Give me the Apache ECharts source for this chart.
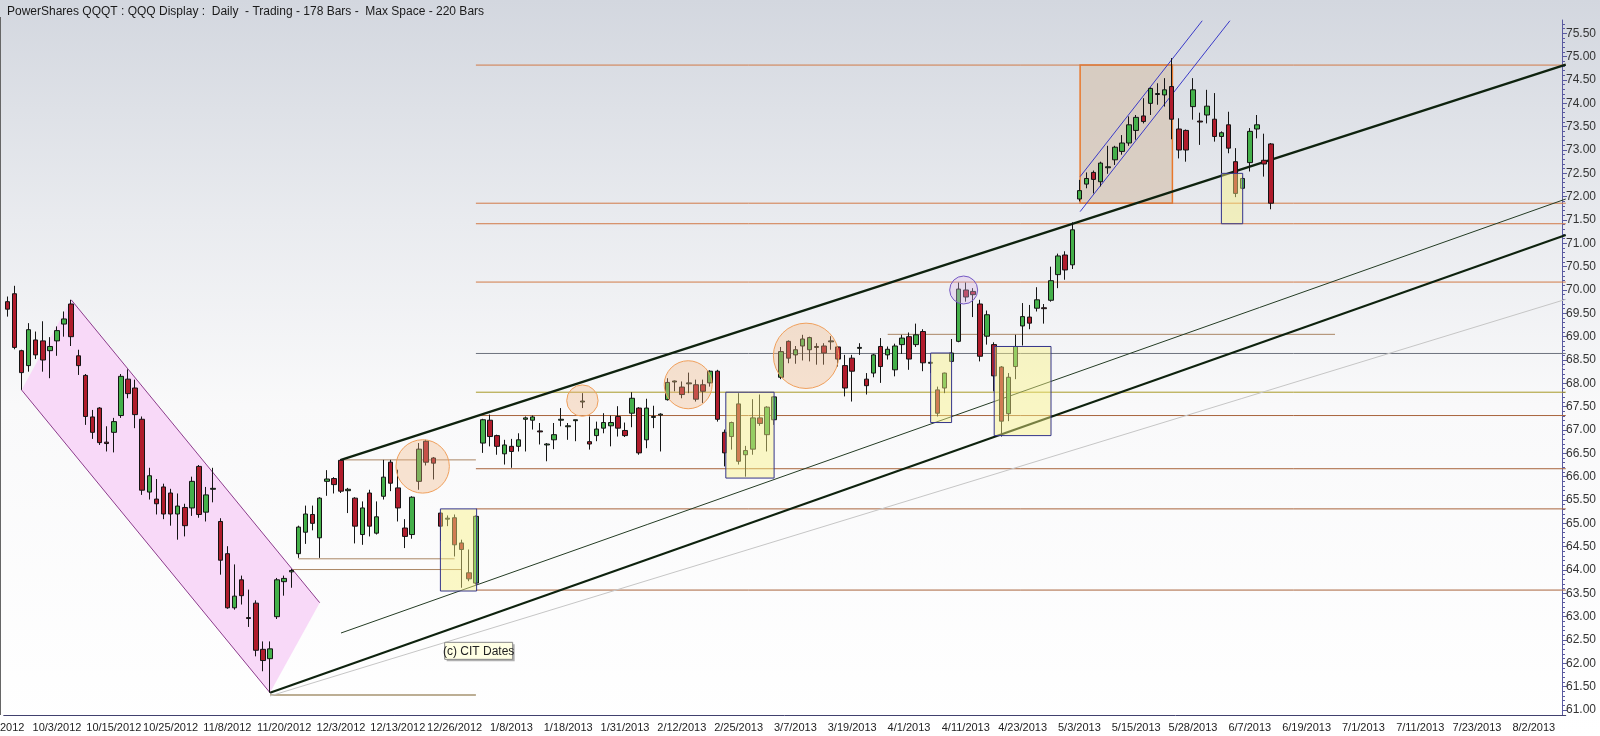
<!DOCTYPE html>
<html>
<head>
<meta charset="utf-8">
<title>QQQ Daily</title>
<script src="https://cdn.jsdelivr.net/npm/echarts@6/dist/echarts.min.js"></script>
<style>
  html, body { margin: 0; padding: 0; background: #fff; }
  #chart { width: 1600px; height: 736px; }
</style>
</head>
<body>
<div id="chart"></div>
<script>
// daily bars, [open, high, low, close], first session 9/24/2012
const bars = [
  [69.75, 69.86, 69.43, 69.59], [69.92, 70.09, 68.73, 68.77], [68.70, 68.72, 67.86, 68.23], [68.38, 69.29, 68.25, 69.15],
  [68.93, 69.11, 68.52, 68.61], [68.91, 69.33, 68.25, 68.50], [68.70, 68.99, 68.11, 68.79], [68.91, 69.22, 68.59, 69.13],
  [69.27, 69.54, 69.00, 69.38], [69.70, 69.79, 68.80, 69.00], [68.59, 68.72, 68.18, 68.38], [68.17, 68.20, 67.11, 67.29],
  [67.28, 67.43, 66.81, 66.95], [67.47, 67.49, 66.68, 66.73], [66.74, 67.08, 66.54, 66.71], [66.95, 67.26, 66.52, 67.18],
  [67.31, 68.20, 67.26, 68.15], [68.09, 68.30, 67.68, 67.78], [67.90, 68.08, 67.04, 67.33], [67.23, 67.29, 65.61, 65.71],
  [65.67, 66.19, 65.51, 66.02], [65.52, 65.95, 65.19, 65.42], [65.78, 65.85, 65.09, 65.20], [65.65, 65.74, 64.95, 65.20],
  [65.20, 65.64, 64.65, 65.37], [65.34, 65.42, 64.72, 64.95], [65.33, 66.00, 65.16, 65.90], [66.22, 66.25, 65.12, 65.19],
  [65.24, 65.78, 65.04, 65.61], [65.73, 66.19, 65.45, 65.75], [65.04, 65.11, 63.90, 64.21], [64.35, 64.51, 63.17, 63.19],
  [63.19, 64.12, 63.15, 63.44], [63.79, 63.88, 63.26, 63.45], [62.98, 63.58, 62.78, 62.96], [63.29, 63.35, 62.15, 62.28],
  [62.30, 62.47, 61.83, 62.06], [62.10, 62.47, 61.37, 62.31], [63.00, 63.83, 62.95, 63.79], [63.75, 63.88, 63.45, 63.82],
  [63.96, 64.02, 63.62, 63.99], [64.35, 64.95, 64.26, 64.92], [64.81, 65.38, 64.56, 65.20], [65.19, 65.38, 64.85, 65.00],
  [64.69, 65.56, 64.26, 65.54], [65.90, 66.14, 65.59, 65.95], [65.96, 65.99, 65.64, 65.83], [66.35, 66.38, 65.65, 65.69],
  [65.70, 65.76, 65.22, 65.73], [65.54, 65.56, 64.57, 64.94], [64.76, 65.47, 64.54, 65.33], [65.65, 65.72, 64.72, 64.94],
  [64.79, 65.47, 64.76, 65.14], [65.58, 66.36, 65.51, 65.99], [66.31, 66.36, 65.69, 65.86], [65.76, 66.15, 65.04, 65.33],
  [64.90, 65.09, 64.47, 64.72], [64.76, 65.58, 64.67, 65.56], [65.90, 66.72, 65.72, 66.59], [66.76, 66.79, 66.24, 66.31],
  [66.40, 66.42, 65.94, 66.29], [65.22, 65.24, 64.62, 64.94], [65.09, 65.17, 64.94, 65.11], [65.12, 65.19, 64.29, 64.54],
  [64.58, 64.65, 63.62, 64.44], [63.94, 64.44, 63.76, 63.81], [63.72, 65.17, 63.69, 65.15],
  // 2013
  [66.72, 67.24, 66.51, 67.22], [67.21, 67.33, 66.65, 66.86], [66.88, 66.90, 66.47, 66.65], [66.49, 66.79, 66.26, 66.68],
  [66.65, 66.81, 66.19, 66.54], [66.65, 66.93, 66.54, 66.79], [67.23, 67.29, 66.54, 67.26], [67.21, 67.31, 67.01, 67.28],
  [66.98, 67.15, 66.69, 66.96], [66.68, 66.72, 66.33, 66.70], [66.79, 67.15, 66.59, 66.90], [67.21, 67.47, 67.08, 67.23],
  [67.07, 67.15, 66.79, 67.09], [67.20, 67.22, 66.76, 67.22], [67.60, 67.79, 67.47, 67.62], [66.75, 67.29, 66.58, 66.70],
  [66.88, 67.18, 66.76, 67.02], [67.04, 67.36, 66.93, 67.16], [67.09, 67.31, 66.65, 67.16], [67.29, 67.51, 66.86, 67.04],
  [66.99, 67.16, 66.85, 66.88], [67.36, 67.81, 67.06, 67.68], [67.47, 67.49, 66.47, 66.51], [66.79, 67.67, 66.61, 67.47],
  [67.27, 67.52, 67.04, 67.29], [67.32, 67.36, 66.54, 67.34], [67.65, 68.11, 67.63, 68.02], [68.03, 68.06, 67.83, 68.05],
  [67.92, 68.04, 67.68, 67.76], [67.99, 68.23, 67.79, 68.01], [67.97, 68.08, 67.61, 67.66], [67.97, 68.08, 67.58, 67.83],
  [68.01, 68.28, 67.93, 68.26], [68.26, 68.29, 67.18, 67.23], [66.95, 67.01, 66.22, 66.51], [66.86, 67.18, 66.58, 67.16],
  [67.56, 67.79, 66.26, 66.33], [66.47, 66.66, 66.00, 66.56], [66.59, 67.66, 66.47, 67.26], [67.26, 67.76, 67.09, 67.14],
  [66.90, 67.51, 66.54, 67.49], [67.22, 67.73, 67.11, 67.71], [68.13, 68.78, 68.09, 68.68], [68.90, 68.92, 68.43, 68.54],
  [68.61, 68.80, 68.42, 68.72], [68.80, 69.04, 68.49, 68.95], [68.72, 69.00, 68.47, 68.98], [68.77, 68.86, 68.40, 68.79],
  [68.80, 68.86, 68.40, 68.65], [68.89, 69.01, 68.72, 68.91], [68.78, 68.80, 68.36, 68.52], [68.38, 68.61, 67.72, 67.90],
  [68.54, 68.61, 67.61, 68.26], [68.75, 68.86, 68.61, 68.77], [68.09, 68.22, 67.76, 67.95], [68.22, 68.63, 68.13, 68.61],
  [68.79, 68.97, 68.01, 68.36], [68.61, 68.79, 68.51, 68.73], [68.29, 68.85, 68.15, 68.80], [68.83, 69.04, 68.63, 68.97],
  [69.00, 69.09, 68.29, 68.52], [68.83, 69.28, 68.78, 69.04], [69.11, 69.16, 68.26, 68.44], [68.43, 68.47, 68.22, 68.45],
  [67.86, 67.93, 67.29, 67.36], [67.90, 68.23, 67.79, 68.22], [68.47, 68.95, 68.43, 68.65], [68.90, 70.16, 68.88, 70.02],
  [70.00, 70.16, 69.75, 69.85], [69.97, 70.04, 69.42, 69.90], [69.70, 69.79, 68.47, 68.58], [69.01, 69.56, 68.83, 69.47],
  [68.83, 68.88, 67.83, 68.16], [68.35, 68.37, 66.86, 67.19], [67.35, 68.22, 67.19, 68.13], [68.36, 69.04, 68.09, 68.79],
  [69.23, 69.72, 68.81, 69.43], [69.42, 69.68, 69.16, 69.29], [69.61, 70.06, 69.54, 69.79], [69.62, 69.70, 69.28, 69.60],
  [69.78, 70.50, 69.75, 70.20], [70.33, 70.78, 70.04, 70.73], [70.75, 70.83, 70.22, 70.43], [70.54, 71.45, 70.45, 71.29],
  [71.95, 72.36, 71.90, 72.13], [72.27, 72.52, 72.18, 72.39], [72.52, 72.56, 72.07, 72.37], [72.32, 72.75, 72.22, 72.72],
  [72.62, 73.09, 72.49, 72.64], [72.79, 73.09, 72.68, 73.06], [72.97, 73.32, 72.90, 73.15], [73.15, 73.72, 73.09, 73.54],
  [73.42, 73.75, 73.22, 73.70], [73.73, 74.11, 73.57, 73.61], [74.00, 74.34, 73.75, 74.32], [74.19, 74.43, 73.97, 74.21],
  [74.18, 74.54, 73.93, 74.29], [74.36, 74.97, 73.23, 73.66], [73.45, 73.68, 72.82, 73.00], [73.42, 73.44, 72.75, 73.00],
  [73.93, 74.54, 73.65, 74.29], [73.62, 73.80, 73.11, 73.60], [73.75, 74.29, 73.57, 73.94], [73.66, 74.22, 73.18, 73.29],
  [73.29, 73.40, 72.50, 73.37], [73.54, 73.82, 72.93, 73.04], [72.75, 73.04, 71.99, 72.07], [72.18, 72.43, 72.15, 72.39],
  [72.73, 73.47, 72.54, 73.40], [73.45, 73.75, 73.25, 73.54], [72.78, 73.35, 72.43, 72.70], [73.13, 73.15, 71.73, 71.86]
]

// session calendar (future sessions are not holiday adjusted, like the source software)
const firstSession = [2012, 8, 24]
const closedDays = ['2012-10-29', '2012-10-30', '2012-11-22', '2012-12-25', '2013-01-01',
  '2013-01-21', '2013-02-18', '2013-03-29', '2013-05-27']
const maxBars = 220
const firstLabelBar = 7
const labelStep = 8

const priceLabels = [61, 61.5, 62, 62.5, 63, 63.5, 64, 64.5, 65, 65.5, 66, 66.5, 67, 67.5,
  68, 68.5, 69, 69.5, 70, 70.5, 71, 71.5, 72, 72.5, 73, 73.5, 74, 74.5, 75, 75.5]

// drawn studies, x in bars from first session, y in price
const levelFrom = 66
const levelTo = 219.5
const orangeLevels = [74.82, 71.86, 71.42, 70.17]
const brownLevels = [67.31, 66.17, 65.31, 63.57]
const oliveLevels = [67.81]
const grayLevels = [68.64]
const shortLevels = [[124, 187, 69.05], [47, 66, 66.36], [41, 63, 64.24], [40, 64, 64.01]]
const baseLevel = [[37, 66, 61.32]]
const trendThick = [[47, 66.36, 219.5, 74.83], [37, 61.37, 219.5, 71.18]]
const trendThin = [[47, 62.65, 219.5, 71.95]]
const trendFaint = [[37, 61.30, 219.5, 69.80]]
const pinkChannel = [[2, 67.86], [9, 69.79], [44, 63.30], [37, 61.37]]
const pinkRails = [[9, 69.79, 44, 63.30], [2, 67.86, 37, 61.37]]
const blueRails = [[151.1, 72.43, 168.3, 75.77], [151.1, 71.68, 172.2, 75.77]]
const orangeBox = [[151.1, 164.1, 71.86, 74.82]]
const yellowBoxes = [[61, 66.1, 63.55, 65.31], [101.2, 108, 65.97, 67.81], [130.05, 133, 67.16, 68.65],
  [139, 147, 66.88, 68.79], [171, 174, 71.42, 72.50]]
// [bar, price, radius in bars]
const orangeCircles = [[58.5, 66.22, 3.76], [81.0, 67.63, 2.21], [95.9, 67.97, 3.38], [112.5, 68.59, 4.6]]
const purpleCircles = [[134.7, 70.0, 1.97]]
const citNote = [[61.6, 62.45]]

function buildSessions() {
  const out = []
  const d = new Date(Date.UTC(firstSession[0], firstSession[1], firstSession[2]))
  while (out.length < maxBars) {
    const iso = d.toISOString().slice(0, 10)
    const wd = d.getUTCDay()
    if (wd !== 0 && wd !== 6 && closedDays.indexOf(iso) < 0) {
      out.push((d.getUTCMonth() + 1) + '/' + d.getUTCDate() + '/' + d.getUTCFullYear())
    }
    d.setUTCDate(d.getUTCDate() + 1)
  }
  return out
}

const sessions = buildSessions()
const minorTicks = []
for (let v = 61; v <= 75.75; v += 0.1) minorTicks.push(+v.toFixed(1))

const FONT = 'Liberation Sans, Arial, sans-serif'
const plotBox = { left: 3.75, right: 34.25, top: 20, bottom: 21, show: false }
const yMin = 60.893
const yMax = 75.786

function segments(name, data, color, width, z) {
  return {
    name,
    type: 'custom',
    xAxisIndex: 1,
    yAxisIndex: 0,
    z,
    silent: true,
    data,
    encode: { x: [0, 2], y: [1, 3] },
    renderItem(params, api) {
      const a = api.coord([api.value(0), api.value(1)])
      const b = api.coord([api.value(2), api.value(3)])
      return {
        type: 'line',
        shape: { x1: a[0], y1: a[1], x2: b[0], y2: b[1] },
        style: { stroke: color, lineWidth: width }
      }
    }
  }
}

function levels(list, color, z) {
  return segments('levels', list.map(p => [levelFrom, p, levelTo, p]), color, 1, z)
}

function boxes(name, data, fill, stroke, width, z) {
  return {
    name,
    type: 'custom',
    xAxisIndex: 1,
    yAxisIndex: 0,
    z,
    silent: true,
    data,
    encode: { x: [0, 1], y: [2, 3] },
    renderItem(params, api) {
      const a = api.coord([api.value(0), api.value(3)])
      const b = api.coord([api.value(1), api.value(2)])
      return {
        type: 'rect',
        shape: { x: a[0], y: a[1], width: b[0] - a[0], height: b[1] - a[1] },
        style: { fill, stroke, lineWidth: width }
      }
    }
  }
}

function circles(name, data, fill, stroke, z) {
  return {
    name,
    type: 'custom',
    xAxisIndex: 1,
    yAxisIndex: 0,
    z,
    silent: true,
    data,
    encode: { x: 0, y: 1 },
    renderItem(params, api) {
      const c = api.coord([api.value(0), api.value(1)])
      const r = api.size([api.value(2), 0])[0]
      return {
        type: 'circle',
        shape: { cx: c[0], cy: c[1], r },
        style: { fill, stroke, lineWidth: 1 }
      }
    }
  }
}

const chart = echarts.init(document.getElementById('chart'))

chart.setOption({
  animation: false,
  backgroundColor: {
    type: 'linear', x: 0, y: 0, x2: 0, y2: 1,
    colorStops: [
      { offset: 0, color: '#d3d7df' },
      { offset: 0.3, color: '#e9ebef' },
      { offset: 0.55, color: '#f9f9fa' },
      { offset: 1, color: '#ffffff' }
    ]
  },
  title: {
    text: 'PowerShares QQQT : QQQ Display :  Daily  - Trading - 178 Bars -  Max Space - 220 Bars',
    left: 2,
    top: 1,
    textStyle: { fontFamily: FONT, fontSize: 12, fontWeight: 'normal', color: '#1a1a1a' }
  },
  graphic: [
    { type: 'line', shape: { x1: 0.5, y1: 17, x2: 0.5, y2: 715 }, style: { stroke: '#666', lineWidth: 1 } },
    { type: 'text', x: 0, y: 722, style: { text: '9/21/2012', font: '11px ' + FONT, fill: '#222', textAlign: 'center' } }
  ],
  // second grid only carries the minor price ticks
  grid: [plotBox, Object.assign({}, plotBox)],
  xAxis: [{
    type: 'category',
    gridIndex: 0,
    data: sessions,
    boundaryGap: true,
    axisLine: { lineStyle: { color: '#40406e', width: 1 } },
    axisTick: { interval: 0, length: 3, lineStyle: { color: '#40406e' } },
    axisLabel: {
      interval: i => i >= firstLabelBar && (i - firstLabelBar) % labelStep === 0,
      margin: 7,
      fontFamily: FONT,
      fontSize: 11,
      color: '#222'
    },
    splitLine: { show: false }
  }, {
    type: 'value',
    gridIndex: 0,
    min: -0.5,
    max: maxBars - 0.5,
    show: false
  }, {
    type: 'value',
    gridIndex: 1,
    min: -0.5,
    max: maxBars - 0.5,
    show: false
  }],
  yAxis: [{
    type: 'value',
    gridIndex: 0,
    position: 'right',
    offset: -3.75,
    min: yMin,
    max: yMax,
    scale: true,
    axisLine: { show: true, onZero: false, lineStyle: { color: '#5a5aa0' } },
    axisTick: { show: true, customValues: priceLabels, length: 5, lineStyle: { color: '#5a5aa0' } },
    axisLabel: {
      customValues: priceLabels,
      formatter: v => v.toFixed(2),
      margin: 4,
      fontFamily: FONT,
      fontSize: 12,
      color: '#333'
    },
    splitLine: { show: false }
  }, {
    type: 'value',
    gridIndex: 1,
    position: 'right',
    offset: -3.75,
    min: yMin,
    max: yMax,
    scale: true,
    axisLine: { show: false, onZero: false },
    axisTick: { show: true, customValues: minorTicks, length: 3, lineStyle: { color: '#5a5aa0' } },
    axisLabel: { show: false },
    splitLine: { show: false }
  }],
  series: [
    {
      name: 'pink channel',
      type: 'custom',
      xAxisIndex: 1,
      yAxisIndex: 0,
      z: 1,
      silent: true,
      data: [pinkChannel[0]],
      encode: { x: 0, y: 1 },
      renderItem(params, api) {
        return {
          type: 'polygon',
          shape: { points: pinkChannel.map(p => api.coord(p)) },
          style: { fill: '#f8d9f8' }
        }
      }
    },
    boxes('range box', orangeBox, 'rgba(214,198,182,0.75)', '#e8782c', 1.5, 1),
    levels(orangeLevels, '#d27a48', 1.2),
    levels(brownLevels, '#a8643c', 1.2),
    levels(oliveLevels, '#a89a28', 1.2),
    levels(grayLevels, '#6e737e', 1.2),
    segments('short levels', shortLevels.map(s => [s[0], s[2], s[1], s[2]]), '#aa8664', 1, 1.2),
    segments('base level', baseLevel.map(s => [s[0], s[2], s[1], s[2]]), '#bcae94', 2, 1.2),
    segments('faint trend', trendFaint, '#c6c6c6', 1, 1.3),
    segments('thin trend', trendThin, '#243c24', 1, 1.3),
    segments('trend', trendThick, '#0e220e', 2.2, 1.4),
    segments('pink rails', pinkRails, '#8c3c8c', 1, 1.4),
    segments('blue rails', blueRails, '#3a3ac8', 1, 1.4),
    {
      name: 'QQQ',
      type: 'candlestick',
      xAxisIndex: 0,
      yAxisIndex: 0,
      z: 2,
      barWidth: 5,
      data: bars.map(b => [b[0], b[3], b[2], b[1]]),
      itemStyle: {
        color: '#44b04a',
        color0: '#b01c2c',
        borderColor: '#141414',
        borderColor0: '#141414',
        borderColorDoji: '#141414',
        borderWidth: 1
      }
    },
    boxes('cit boxes', yellowBoxes, 'rgba(248,242,130,0.45)', '#34348a', 1, 3),
    circles('cycle circles', orangeCircles, 'rgba(242,180,130,0.35)', '#f0a05c', 3),
    circles('top circle', purpleCircles, 'rgba(214,180,230,0.35)', '#7458c4', 3),
    {
      name: 'note',
      type: 'custom',
      xAxisIndex: 1,
      yAxisIndex: 0,
      z: 5,
      silent: true,
      data: citNote,
      encode: { x: 0, y: 1 },
      renderItem(params, api) {
        const p = api.coord([api.value(0), api.value(1)])
        return {
          type: 'group',
          children: [
            { type: 'rect', shape: { x: p[0] + 2, y: p[1] + 2, width: 68, height: 17 }, style: { fill: '#b0b0b0' } },
            { type: 'rect', shape: { x: p[0], y: p[1], width: 68, height: 17 }, style: { fill: '#ffffe4', stroke: '#8a8a8a', lineWidth: 1 } },
            { type: 'text', x: p[0] + 34, y: p[1] + 9, style: { text: '(c) CIT Dates', font: '12px ' + FONT, fill: '#222', textAlign: 'center', textVerticalAlign: 'middle' } }
          ]
        }
      }
    }
  ]
})
</script>
</body>
</html>
